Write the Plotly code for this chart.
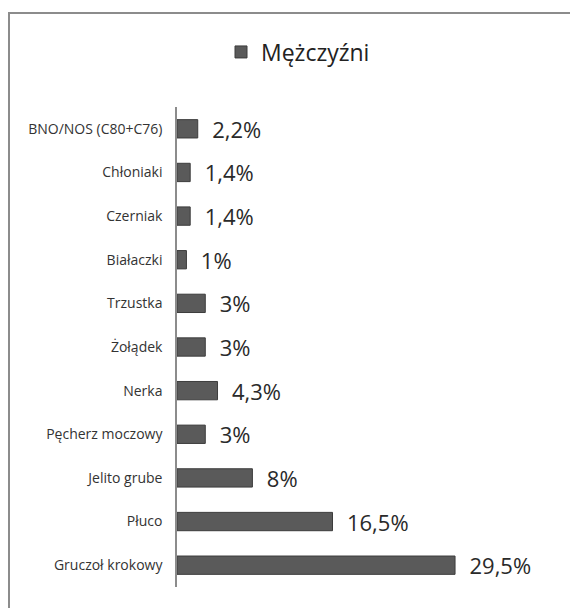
import plotly.graph_objects as go

categories = ["Gruczoł krokowy", "Płuco", "Jelito grube", "Pęcherz moczowy", "Nerka",
              "Żołądek", "Trzustka", "Białaczki", "Czerniak", "Chłoniaki", "BNO/NOS (C80+C76)"]
values = [29.5, 16.5, 8, 3, 4.3, 3, 3, 1, 1.4, 1.4, 2.2]
labels = ["29,5%", "16,5%", "8%", "3%", "4,3%", "3%", "3%", "1%", "1,4%", "1,4%", "2,2%"]
series_name = "Mężczyźni"

# page has an 8px body margin, so the figure is drawn from (8, 8)
OFF = 8
W, H = 578 - OFF, 608 - OFF
ml, mr, mt, mb = 177 - OFF, 24, 107 - OFF, 21
pw, ph = W - ml - mr, H - mt - mb

def px_x(p):
    return (p - OFF - ml) / pw

def px_y(p):
    return (H - mb - (p - OFF)) / ph

fig = go.Figure()
fig.add_trace(go.Bar(
    y=categories, x=values, orientation="h", name=series_name,
    text=["\u00a0\u00a0" + t for t in labels], textposition="outside",
    constraintext="none",
    textfont=dict(family="Open Sans, sans-serif", size=22, color="#2a2a2a"),
    marker=dict(color="#5a5a5a", line=dict(color="#3c3c3c", width=1)),
    width=0.42, cliponaxis=False,
))

fig.update_layout(
    width=W, height=H,
    margin=dict(l=ml, r=mr, t=mt, b=mb),
    paper_bgcolor="white", plot_bgcolor="white",
    font=dict(family="Open Sans, sans-serif", color="#333333"),
    showlegend=True,
    legend=dict(x=px_x(298), y=px_y(52), xanchor="center", yanchor="middle",
                font=dict(size=23, color="#222222"), bgcolor="rgba(0,0,0,0)"),
    xaxis=dict(range=[0, 40], visible=False, fixedrange=True),
    yaxis=dict(showline=True, linecolor="#8c8c8c", linewidth=1.5, showgrid=False,
               ticks="", tickfont=dict(size=14, color="#333333"), ticklabelstandoff=10,
               categoryorder="array", categoryarray=categories),
    bargap=0.58,
    shapes=[
        dict(type="line", xref="paper", yref="paper", x0=px_x(8), x1=px_x(590), y0=px_y(13), y1=px_y(13),
             line=dict(color="#8c8c8c", width=2)),
        dict(type="line", xref="paper", yref="paper", x0=px_x(9), x1=px_x(9), y0=px_y(13), y1=px_y(620),
             line=dict(color="#8c8c8c", width=2)),
    ],
)

fig.write_html("out.html")
